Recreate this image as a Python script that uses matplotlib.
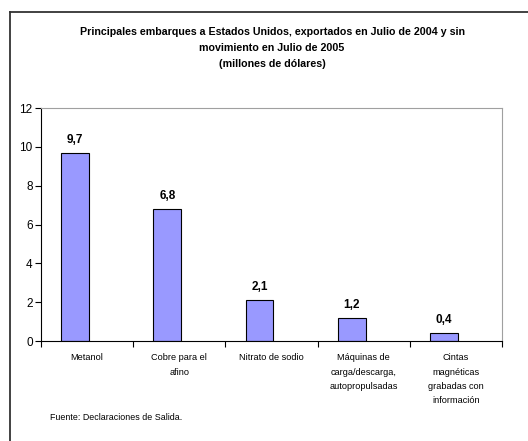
import matplotlib.pyplot as plt
from matplotlib.lines import Line2D
import numpy as np

# datos
categories = ['Metanol', 'Cobre para el\nafino', 'Nitrato de sodio',
              'Máquinas de\ncarga/descarga,\nautopropulsadas',
              'Cintas\nmagnéticas\ngrabadas con\ninformación']
values = [9.7, 6.8, 2.1, 1.2, 0.4]
value_labels = ['9,7', '6,8', '2,1', '1,2', '0,4']

plt.rcParams['font.family'] = ['Liberation Sans', 'DejaVu Sans']

fig = plt.figure(figsize=(5.28, 4.41), dpi=100)
ax = fig.add_axes([41 / 528, 1 - 341 / 441, (502 - 41) / 528, (341 - 108) / 441])

x = np.arange(len(categories))
ax.bar(x - 0.13, values, width=0.3, color='#9999FF', edgecolor='black', linewidth=0.8)

for xi, v, lab in zip(x, values, value_labels):
    ax.text(xi - 0.13, v + 0.35, lab, ha='center', va='bottom', fontsize=8.5, fontweight='bold')

ax.set_xlim(-0.5, len(categories) - 0.5)
ax.set_ylim(0, 12)
ax.set_yticks(range(0, 13, 2))
ax.tick_params(axis='y', labelsize=8.5, direction='out', length=4, width=0.8, pad=2)
ax.set_xticks(x)
ax.set_xticklabels(categories, fontsize=6.6, linespacing=1.75)
ax.set_xticks(np.arange(-0.5, len(categories)), minor=True)
ax.tick_params(axis='x', which='major', length=0, pad=9)
ax.tick_params(axis='x', which='minor', length=4, width=0.8, direction='out')

ax.spines['left'].set_color('black')
ax.spines['bottom'].set_color('black')
ax.spines['top'].set_color('#a0a0a0')
ax.spines['right'].set_color('#a0a0a0')

fig.text(272 / 528, 1 - 48 / 441,
         'Principales embarques a Estados Unidos, exportados en Julio de 2004 y sin\n'
         'movimiento en Julio de 2005\n(millones de dólares)',
         ha='center', va='center', fontsize=7.7, fontweight='bold', linespacing=1.7)

fig.text(50 / 528, 1 - 418 / 441, 'Fuente: Declaraciones de Salida.', fontsize=6.4,
         ha='left', va='center')

# marco exterior
fig.add_artist(Line2D([10 / 528, 1], [1 - 12 / 441, 1 - 12 / 441], color='#333333', linewidth=1.3))
fig.add_artist(Line2D([10 / 528, 10 / 528], [0, 1 - 12 / 441], color='#333333', linewidth=1.3))

fig.savefig('out.png', dpi=100)
